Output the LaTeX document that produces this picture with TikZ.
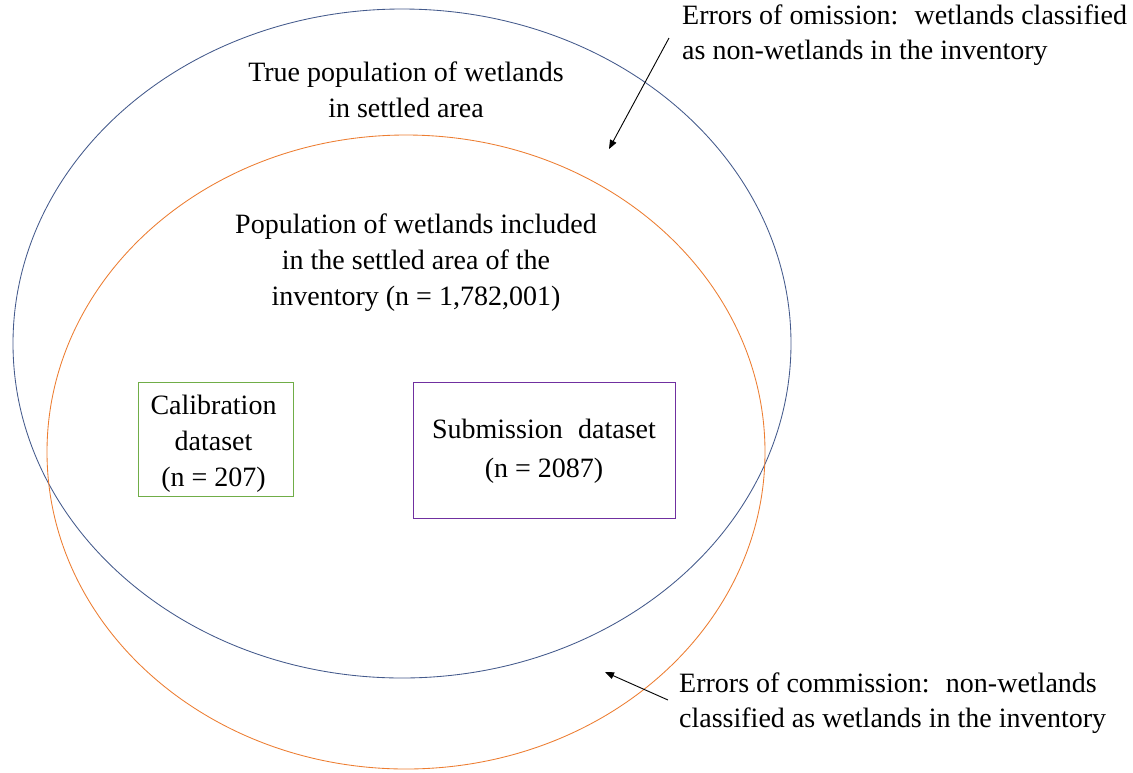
\documentclass[tikz,border=0pt]{standalone}
\usepackage{fontspec}
\setmainfont{Liberation Serif}
\usetikzlibrary{shapes.geometric,arrows.meta}
\definecolor{setblue}{RGB}{68,90,140}
\definecolor{setorange}{RGB}{237,125,49}
\definecolor{calgreen}{RGB}{112,173,71}
\definecolor{subpurple}{RGB}{112,48,160}
\tikzset{
  setring/.style={ellipse, draw, line width=0.85pt, inner sep=0pt},
  txt/.style={font=\fontsize{28}{36}\selectfont, inner sep=0pt, text=black},
  databox/.style={draw, line width=0.9pt, inner sep=0pt},
  pointer/.style={-{Triangle[length=9pt,width=7pt]}, line width=0.9pt, black}
}
\begin{document}
\begin{tikzpicture}[x=1pt,y=-1pt]
\useasboundingbox (0,0) rectangle (1133,772);
\fill[white] (0,0) rectangle (1133,772);
\node[setring, draw=setblue, minimum width=778pt, minimum height=669pt] (true) at (402,343.5) {};
\node[setring, draw=setorange, minimum width=718pt, minimum height=634pt] (inv) at (406,452) {};
\node[txt, align=center] (truelbl) at (406,90) {True population of wetlands\\in settled area};
\node[txt, align=center] (invlbl) at (416,263) {Population of wetlands included\\in the settled area of the\\inventory (n = 1,782,001)};
\node[databox, draw=calgreen, minimum width=155pt, minimum height=114pt] (cal) at (215.5,439) {};
\node[txt, align=center] (caltxt) at ([xshift=-2pt,yshift=-4.5pt]cal.center) {Calibration\\dataset\\(n = 207)};
\node[databox, draw=subpurple, minimum width=262pt, minimum height=136pt] (sub) at (544,450) {};
\node[txt, align=center] (subtxt) at ([yshift=-1pt]sub.center) {Submission\hspace{0.3em} dataset\\[3pt](n = 2087)};
\node[txt, align=left, anchor=north west] (omis) at (682,5) {Errors of omission:\hspace{0.25em} wetlands classified\\[-1pt]as non-wetlands in the inventory};
\node[txt, align=left, anchor=north west] (comm) at (679,673) {Errors of commission:\hspace{0.25em} non-wetlands\\[-1pt]classified as wetlands in the inventory};
\coordinate (omistail) at (669,38);
\coordinate (omishead) at (609,149);
\coordinate (commtail) at (668,700);
\coordinate (commhead) at (605,672);
\draw[pointer] (omistail) -- (omishead);
\draw[pointer] (commtail) -- (commhead);
\end{tikzpicture}
\end{document}
